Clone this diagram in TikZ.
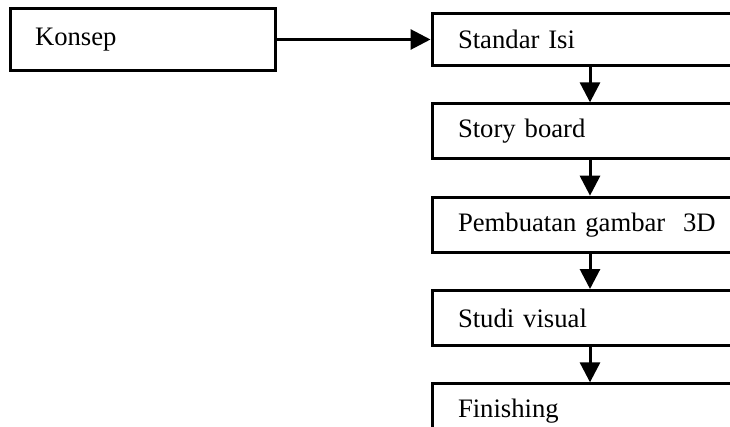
\documentclass[tikz,border=0pt]{standalone}
\usepackage{fontspec}
\setmainfont{Liberation Serif}
\usetikzlibrary{arrows.meta,positioning}

\tikzset{
  box/.style={draw,line width=2.25pt,font=\fontsize{20pt}{24pt}\selectfont,
    align=left,inner xsep=19.5pt,text width=198pt,minimum height=41.25pt},
  flow/.style={line width=2.25pt,-{Triangle[length=15pt,width=15pt]}}
}

\begin{document}
\begin{tikzpicture}[x=0.75pt,y=-0.75pt,node distance=26.5pt]
    \useasboundingbox (0,0) rectangle (730,427);
    \clip (0,0) rectangle (730,427);
    \node[box,text width=161.25pt,inner xsep=18.75pt,minimum height=46.5pt] (konsep) at (142.5,39.5) {Konsep};
    \node[box,minimum height=39pt] (isi) at (590,39.5) {Standar Isi};
    \node[box,below=of isi] (story) {Story board};
    \node[box,below=of story] (gambar) {Pembuatan gambar\ \ 3D};
    \node[box,below=of gambar] (visual) {Studi visual};
    \node[box,below=of visual] (finishing) {Finishing};
    \draw[flow] (konsep) -- (isi);
    \draw[flow] (isi) -- (story);
    \draw[flow] (story) -- (gambar);
    \draw[flow] (gambar) -- (visual);
    \draw[flow] (visual) -- (finishing);
\end{tikzpicture}
\end{document}
